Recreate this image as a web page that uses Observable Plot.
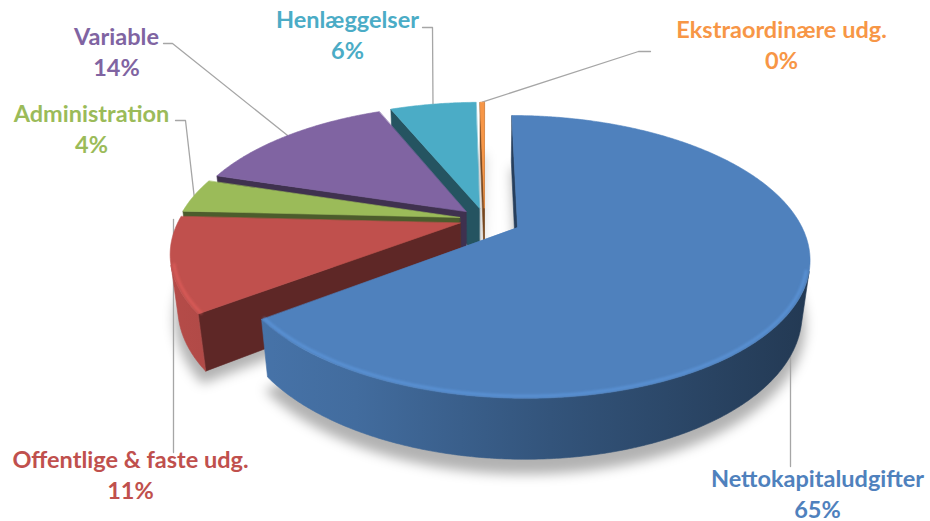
<!DOCTYPE html>
<html>
<head>
<meta charset="utf-8">
<script src="https://cdn.jsdelivr.net/npm/d3@7"></script>
<script src="https://cdn.jsdelivr.net/npm/@observablehq/plot@0.6"></script>
<style>
  html, body { margin: 0; padding: 0; background: #ffffff; }
  #chart { width: 930px; height: 521px; }
</style>
</head>
<body>
<div id="chart"></div>
<script>
// ---------- data ----------
const categories = ["Nettokapitaludgifter", "Offentlige & faste udg.", "Administration", "Variable", "Henlæggelser", "Ekstraordinære udg."];
const values = [65, 11, 4, 14, 6, 0.3];   // shares in %, the last one is shown as 0 %
const colors = ["#4F81BD", "#C0504D", "#9BBB59", "#8064A2", "#4BACC6", "#F79646"];

// ---------- layout (pixels, style) ----------
const W = 930, H = 521;
const view = {cx: 484, cy: 219, f: 1200, D: 4.27, tilt: 28, thick: 0.215};
const explodeBy = [0.13, 0.09, 0.09, 0.09, 0.09, 0.09];
// label anchor: centre x, baseline of the last line
const labelLayout = [
  {px: 817, py: 517}, {px: 130, py: 498}, {px: 91, py: 152},
  {px: 116, py: 75}, {px: 347, py: 58}, {px: 781, py: 68}
];
// leader line start points near the labels (the last point is derived from the slice)
const leaderLayout = [
  {pts: [[790, 466]], vertical: true},
  {pts: [[173, 452]], vertical: true},
  {pts: [[175, 120], [185, 120]]},
  {pts: [[163, 43], [172, 43]]},
  {pts: [[422, 27], [432, 27]]},
  {pts: [[650, 51], [638, 51]]}
];

// ---------- 3D projection ----------
const tilt = view.tilt * Math.PI / 180, ct = Math.cos(tilt), st = Math.sin(tilt);
const h = view.thick;
function project(X, Y, Z) {
  const up = Y * ct + Z * st, depth = view.D + Z * ct - Y * st;
  return [view.f * X / depth, -view.f * up / depth];
}
const total = d3.sum(values);
const arcs = d3.pie().sort(null).value(d => d)(values);
const slices = arcs.map((a, i) => {
  const mid = (a.startAngle + a.endAngle) / 2;
  return {i, a0: a.startAngle, a1: a.endAngle, mid,
          ox: explodeBy[i] * Math.sin(mid), oz: explodeBy[i] * Math.cos(mid)};
});
const rimPt = (s, t, Y, r = 1) => project(s.ox + r * Math.sin(t), Y, s.oz + r * Math.cos(t));
const apexPt = (s, Y) => project(s.ox, Y, s.oz);
const thetas = (a0, a1) => {
  const n = Math.max(2, Math.ceil((a1 - a0) / (Math.PI / 360)));
  return d3.range(n + 1).map(k => a0 + (a1 - a0) * k / n);
};
const wallVisible = (s, t) =>
  -s.ox * Math.sin(t) - s.oz * Math.cos(t) - 1 - view.D * ct * Math.cos(t) > 0;
const camZ = -view.D * ct;

// ---------- faces in painter's order ----------
const faces = [], shadow = [], highlight = [];
let fid = 0;
function addFace(target, pts, fill) {
  const id = fid++;
  pts.forEach(([x, y]) => target.push({id, x, y, fill}));
}
const order = slices.slice().sort((a, b) => Math.cos(b.mid) - Math.cos(a.mid));
for (const s of order) {
  const c = d3.color(colors[s.i]);
  const dark = c.darker(2).formatHex();
  addFace(shadow, [project(s.ox, -h - 0.03, s.oz - 0.02),
    ...thetas(s.a0, s.a1).map(t => project(s.ox + 1.01 * Math.sin(t), -h - 0.03, s.oz - 0.02 + 1.01 * Math.cos(t)))], "#000000");
  const d0 = Math.cos(s.a0) * s.ox + Math.sin(s.a0) * (camZ - s.oz);
  const d1 = -Math.cos(s.a1) * s.ox - Math.sin(s.a1) * (camZ - s.oz);
  if (d0 > 0) addFace(faces, [apexPt(s, 0), rimPt(s, s.a0, 0), rimPt(s, s.a0, -h), apexPt(s, -h)], dark);
  if (d1 > 0) addFace(faces, [apexPt(s, 0), rimPt(s, s.a1, 0), rimPt(s, s.a1, -h), apexPt(s, -h)], dark);
  const vis = thetas(s.a0, s.a1).filter(t => wallVisible(s, t));
  if (vis.length >= 2) {
    addFace(faces, [...vis.map(t => rimPt(s, t, 0)), ...vis.slice().reverse().map(t => rimPt(s, t, -h))], `url(#wall${s.i})`);
    addFace(highlight, vis.map(t => rimPt(s, t, 0, 0.99)), c.brighter(0.6).formatHex());
  }
  addFace(faces, [apexPt(s, 0), ...thetas(s.a0, s.a1).map(t => rimPt(s, t, 0))], c.formatHex());
}

// ---------- labels and leader lines ----------
const labels = slices.map(s => ({
  x: labelLayout[s.i].px - view.cx,
  y: labelLayout[s.i].py - view.cy,
  text: `${categories[s.i]}\n${Math.round(values[s.i] / total * 100)}%`,
  fill: colors[s.i]
}));
const leaders = [];
slices.forEach(s => {
  const L = leaderLayout[s.i];
  const pts = L.pts.map(([px, py]) => [px - view.cx, py - view.cy]);
  if (L.vertical) pts.push([pts[0][0], 0]);
  else pts.push(rimPt(s, s.mid, 0));
  pts.forEach(([x, y]) => leaders.push({id: s.i, x, y}));
});

const plot = Plot.plot({
  width: W, height: H, margin: 0,
  style: {background: "#ffffff"},
  x: {domain: [-view.cx, W - view.cx], range: [0, W], axis: null},
  y: {domain: [-view.cy, H - view.cy], range: [0, H], axis: null},
  color: {type: "identity"},
  marks: [
    Plot.line(shadow, {x: "x", y: "y", z: "id", fill: "fill", fillOpacity: 0.3, stroke: null, curve: "linear-closed", className: "pie-shadow"}),
    Plot.line(leaders, {x: "x", y: "y", z: "id", stroke: "#A6A6A6", strokeWidth: 1.3}),
    Plot.line(faces, {x: "x", y: "y", z: "id", fill: "fill", stroke: "fill", strokeWidth: 0.6, curve: "linear-closed"}),
    Plot.line(highlight, {x: "x", y: "y", z: "id", stroke: "fill", strokeWidth: 3, strokeOpacity: 0.5, className: "pie-highlight"}),
    Plot.text(labels, {x: "x", y: "y", text: "text", fill: "fill", fontFamily: "Lato", fontWeight: "bold",
      fontSize: 23.5, lineAnchor: "bottom", lineHeight: 31 / 23.5, textAnchor: "middle"})
  ]
});

// gradients and blur filters
const svg = d3.select(plot);
const defs = svg.insert("defs", ":first-child");
slices.forEach(s => {
  const c = d3.color(colors[s.i]);
  const g = defs.append("linearGradient").attr("id", "wall" + s.i)
    .attr("gradientUnits", "userSpaceOnUse").attr("x1", 160).attr("x2", 810).attr("y1", 0).attr("y2", 0);
  [[0, 0.15], [0.3, 0.5], [0.6, 1.2], [1, 2.3]].forEach(([o, k]) =>
    g.append("stop").attr("offset", o).attr("stop-color", c.darker(k).formatHex()));
});
defs.append("filter").attr("id", "softShadow").attr("x", "-20%").attr("y", "-20%").attr("width", "140%").attr("height", "140%")
  .append("feGaussianBlur").attr("stdDeviation", 6);
defs.append("filter").attr("id", "softLine").append("feGaussianBlur").attr("stdDeviation", 1.2);
svg.select("g.pie-shadow").attr("filter", "url(#softShadow)");
svg.select("g.pie-highlight").attr("filter", "url(#softLine)");

document.getElementById("chart").appendChild(plot);
</script>
</body>
</html>
